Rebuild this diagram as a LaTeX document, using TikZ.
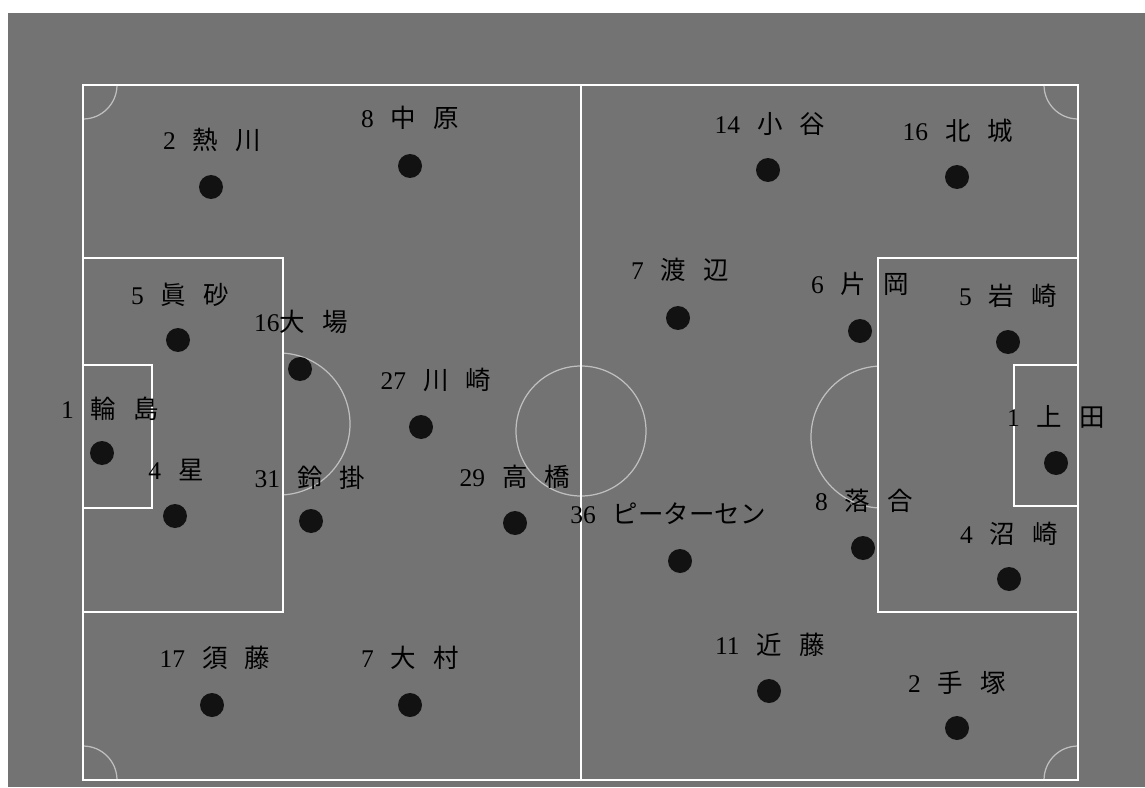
\documentclass[tikz,border=0pt]{standalone}
\usepackage{fontspec}
\setmainfont{Liberation Serif}
\newfontfamily\jp{Noto Sans CJK JP}[WordSpace=3]
\newcommand\shirt[1]{{\rmfamily #1}}
\definecolor{turf}{RGB}{115,115,115}
\begin{document}
\begin{tikzpicture}
    [
    x=0.02cm, y=-0.02cm,
    player/.style={circle,fill=black!93,inner sep=0pt,minimum size=0.48cm},
    tag/.style={inner sep=0pt,font=\fontsize{14.5}{17}\selectfont\jp},
    pitch/.style={white,line width=1.6pt},
    faint/.style={white,opacity=0.55,line width=0.7pt}
    ]
    \useasboundingbox (0,0) rectangle (1145,787);
    \fill [turf] (8,13) rectangle (1145,787);
    % field
    \draw [pitch] (83,85) rectangle (1078,780);
    \draw [pitch] (581,85) -- (581,780);
    \draw [pitch] (83,258) rectangle (283,612);
    \draw [pitch] (83,365) rectangle (152,508);
    \draw [pitch] (1078,258) rectangle (878,612);
    \draw [pitch] (1078,365) rectangle (1014,506);
    \draw [faint] (581,431) circle (65);
    \begin{scope}
      \clip (283,85) rectangle (878,780);
      \draw [faint] (279,424) circle (71);
      \draw [faint] (882,437) circle (71);
    \end{scope}
    \begin{scope}
      \clip (83,85) rectangle (1078,780);
      \draw [faint] (83,85) circle (34);
      \draw [faint] (1078,85) circle (34);
      \draw [faint] (83,780) circle (34);
      \draw [faint] (1078,780) circle (34);
    \end{scope}
    % left team
    \node (l2) at (211,187) [player] {};
    \node (l2n) at (212,140) [tag] {\shirt{2} 熱 川};
    \node (l8) at (410,166) [player] {};
    \node (l8n) at (410,118) [tag] {\shirt{8} 中 原};
    \node (l5) at (178,340) [player] {};
    \node (l5n) at (180,295) [tag] {\shirt{5} 眞 砂};
    \node (l16) at (300,369) [player] {};
    \node (l16n) at (301,322) [tag] {\shirt{16}大 場};
    \node (l27) at (421,427) [player] {};
    \node (l27n) at (436,380) [tag] {\shirt{27} 川 崎};
    \node (l1) at (102,453) [player] {};
    \node (l1n) at (110,409) [tag] {\shirt{1} 輪 島};
    \node (l4) at (175,516) [player] {};
    \node (l4n) at (176,470) [tag] {\shirt{4} 星};
    \node (l31) at (311,521) [player] {};
    \node (l31n) at (310,478) [tag] {\shirt{31} 鈴 掛};
    \node (l29) at (515,523) [player] {};
    \node (l29n) at (515,477) [tag] {\shirt{29} 高 橋};
    \node (l17) at (212,705) [player] {};
    \node (l17n) at (215,658) [tag] {\shirt{17} 須 藤};
    \node (l7) at (410,705) [player] {};
    \node (l7n) at (410,658) [tag] {\shirt{7} 大 村};
    % right team
    \node (r14) at (768,170) [player] {};
    \node (r14n) at (770,124) [tag] {\shirt{14} 小 谷};
    \node (r16) at (957,177) [player] {};
    \node (r16n) at (958,131) [tag] {\shirt{16} 北 城};
    \node (r7) at (678,318) [player] {};
    \node (r7n) at (680,270) [tag] {\shirt{7} 渡 辺};
    \node (r6) at (860,331) [player] {};
    \node (r6n) at (860,284) [tag] {\shirt{6} 片 岡};
    \node (r5) at (1008,342) [player] {};
    \node (r5n) at (1008,296) [tag] {\shirt{5} 岩 崎};
    \node (r1) at (1056,463) [player] {};
    \node (r1n) at (1056,417) [tag] {\shirt{1} 上 田};
    \node (r36) at (680,561) [player] {};
    \node (r36n) at (668,514) [tag] {\shirt{36} ピーターセン};
    \node (r8) at (863,548) [player] {};
    \node (r8n) at (864,501) [tag] {\shirt{8} 落 合};
    \node (r4) at (1009,579) [player] {};
    \node (r4n) at (1009,534) [tag] {\shirt{4} 沼 崎};
    \node (r11) at (769,691) [player] {};
    \node (r11n) at (770,645) [tag] {\shirt{11} 近 藤};
    \node (r2) at (957,728) [player] {};
    \node (r2n) at (957,683) [tag] {\shirt{2} 手 塚};
  \end{tikzpicture}
\end{document}
